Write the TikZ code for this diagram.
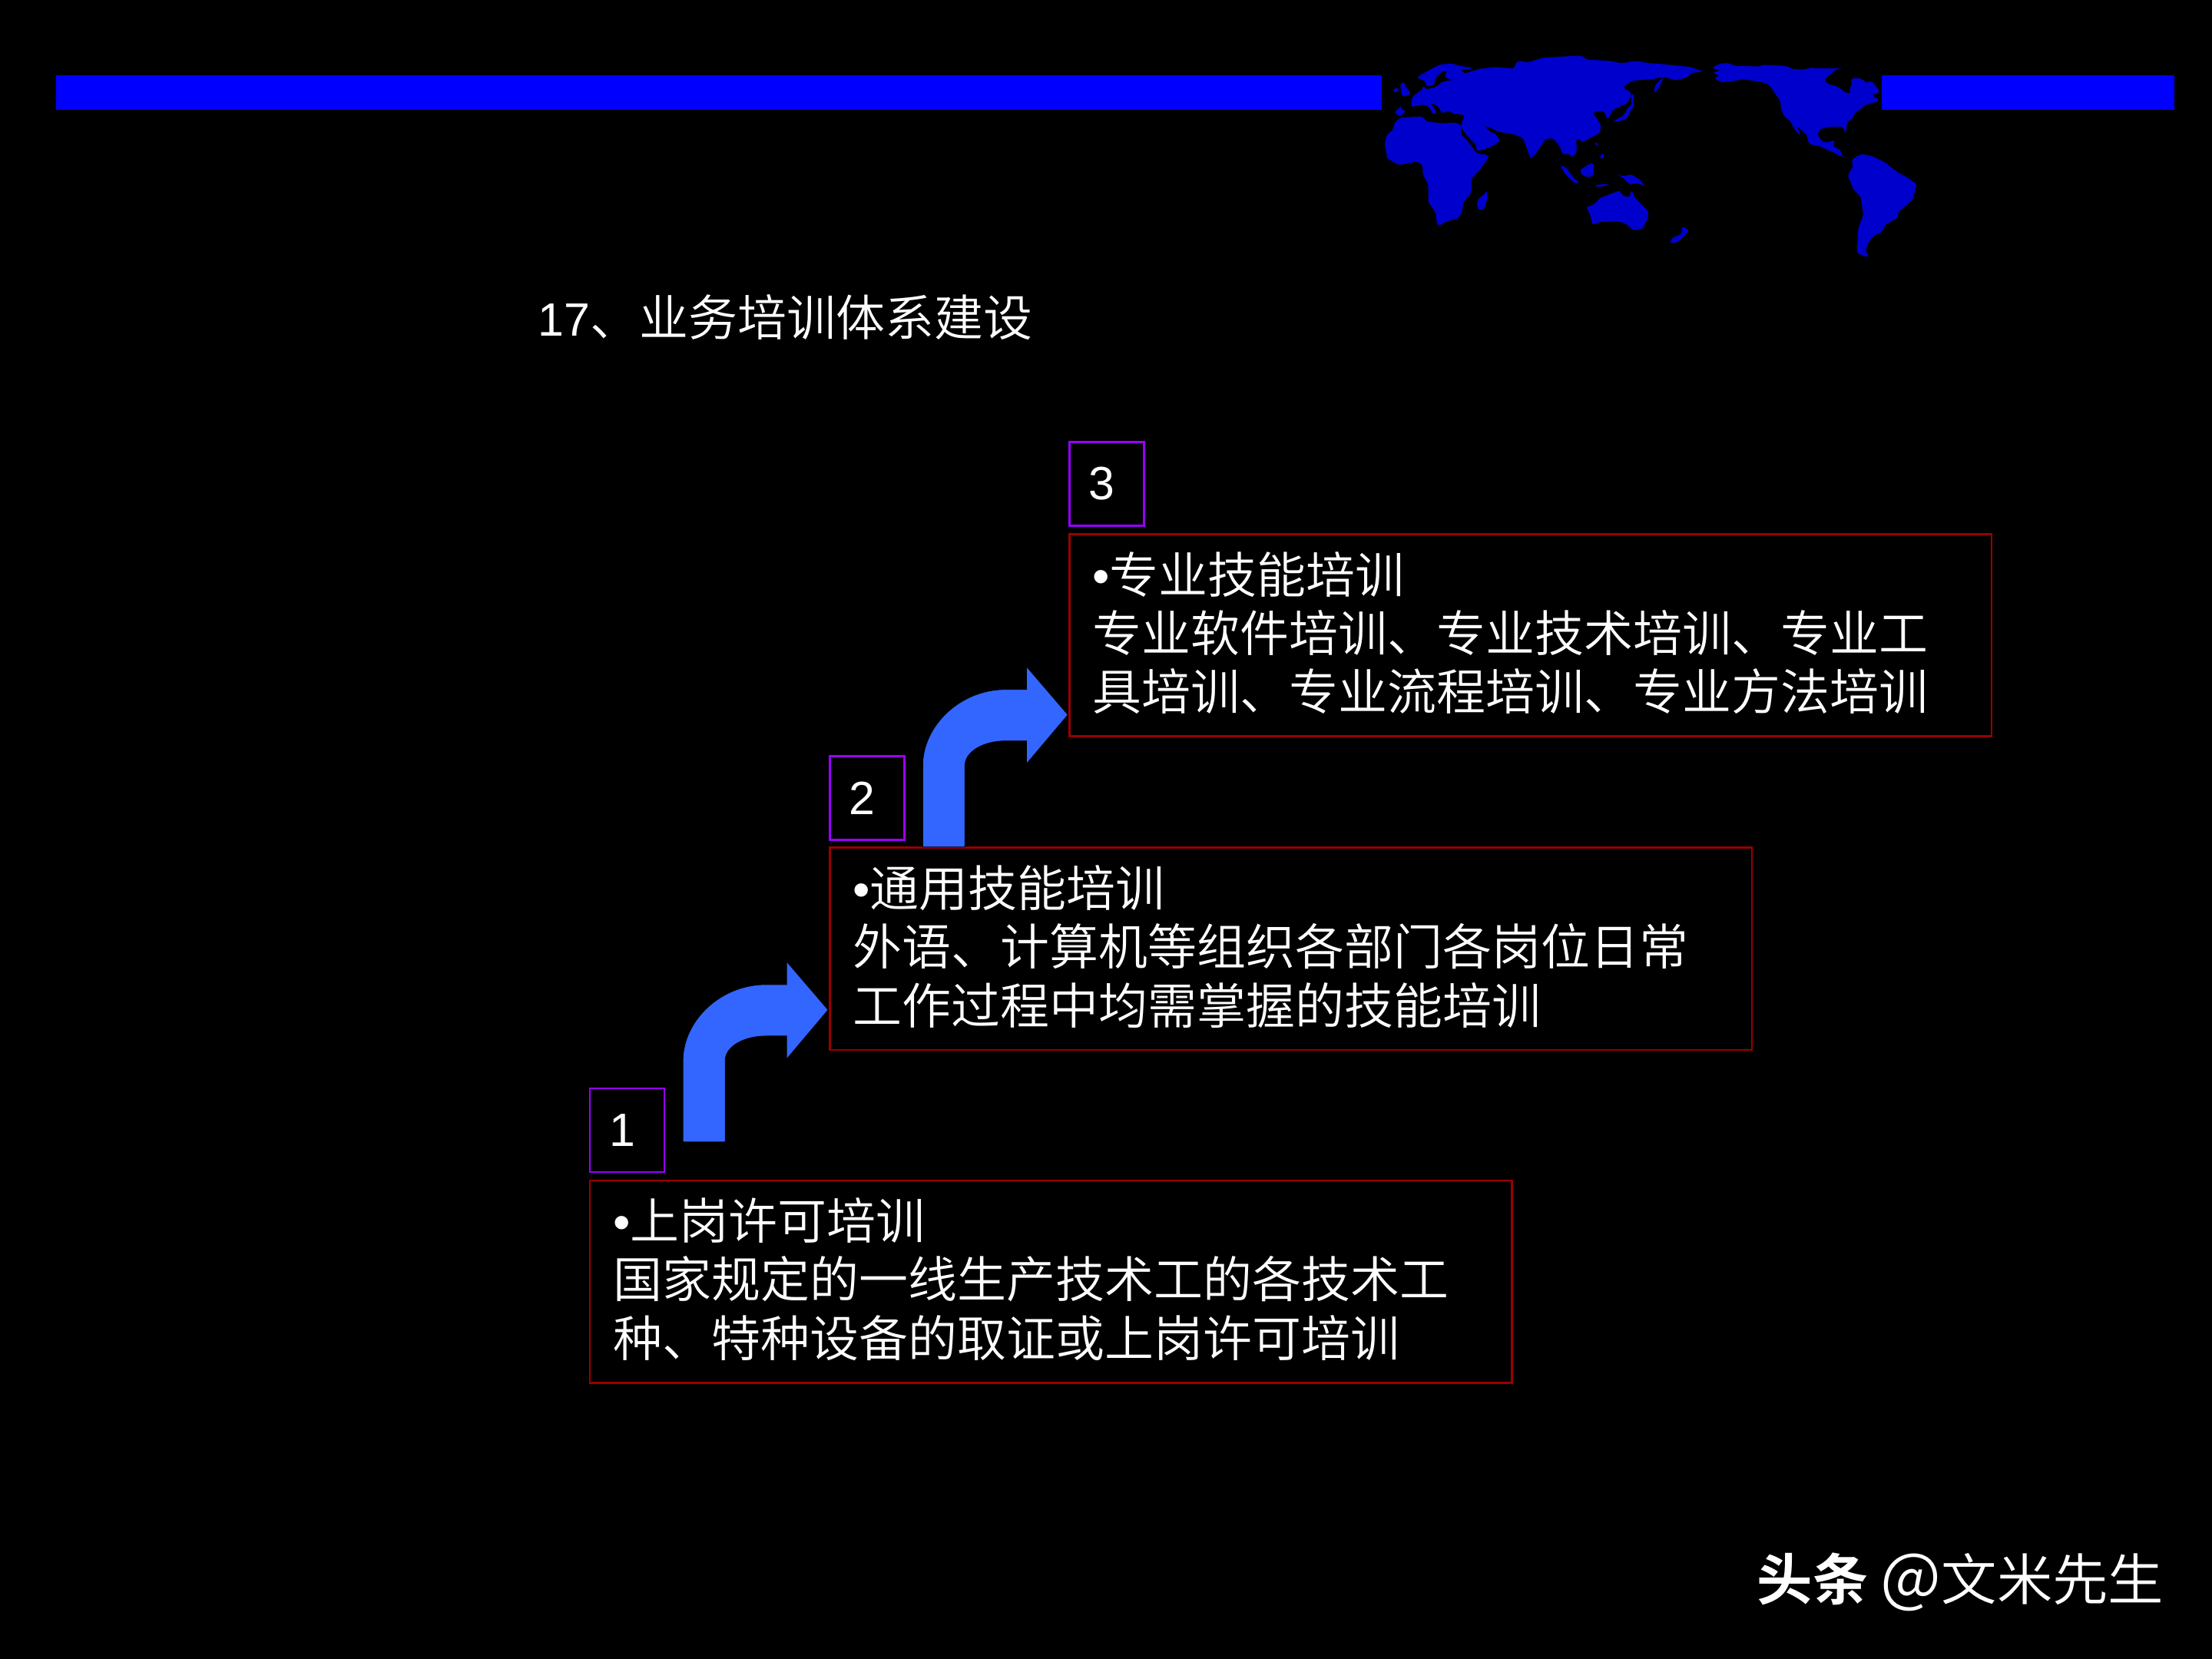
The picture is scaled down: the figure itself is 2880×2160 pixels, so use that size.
\documentclass[tikz,border=0pt]{standalone}
\usepackage{fontspec}
\setmainfont{Noto Sans CJK SC DemiLight}[BoldFont={Noto Sans CJK SC Bold}]
\newfontfamily\latinfont{Liberation Sans}
\newfontfamily\digitfont{Liberation Sans}[Scale=0.95]
\usetikzlibrary{positioning}
\definecolor{barblue}{HTML}{0000FF}
\definecolor{mapblue}{HTML}{0000CC}
\definecolor{arrowblue}{HTML}{3366FF}
\definecolor{boxred}{HTML}{990000}
\definecolor{numpurple}{HTML}{9900FF}
\newcommand{\bulletmark}{{\latinfont •}}
\tikzset{
  textbox/.style={draw=boxred, line width=0.027cm, text=white, outer sep=0pt, inner xsep=0.3cm, inner ysep=0pt,
    text width=11.4cm, minimum height=2.63cm, align=left, font=\fontsize{18.2}{21.75}\selectfont,
    execute at end node={\par\vspace{0.06cm}}},
  numbox/.style={draw=numpurple, line width=0.027cm, text=white, outer sep=0pt, inner sep=0pt,
    minimum width=0.97cm, minimum height=1.09cm, font=\fontsize{18.2}{21.75}\selectfont\digitfont,
    execute at end node={\hspace{0.12cm}}},
  plaintext/.style={text=white, inner sep=0pt, font=\fontsize{18.2}{21.75}\selectfont},
  bentarrow/.pic={
    \path[fill=arrowblue, draw=black, line width=0.008cm]
      (0,0) -- (-54,-63) -- (-54,-33) -- (-81,-33) .. controls (-141,-33) and (-189,15) .. (-189,66)
      -- (-189,172) -- (-134,172) -- (-134,66) .. controls (-134,48) and (-110,34) .. (-81,34)
      -- (-54,34) -- (-54,64) -- cycle;
  }
}
\begin{document}
\begin{tikzpicture}[x=0.01cm, y=-0.01cm]
          \fill[black] (0,0) rectangle (2880,2160);
          \fill[barblue] (73,98) rectangle (1799,143);
          \fill[barblue] (2450,98) rectangle (2831,143);
          % map, north part
          \begin{scope}[shift={(1790,60)}, x=0.003333cm, y=-0.003333cm, rounded corners=0.03cm]
            \fill[mapblue] (143,235) -- (143,205) -- (165,183) -- (185,172) -- (190,153) -- (200,170) -- (240,160) -- (262,140) -- (315,130) -- (285,128) -- (272,118) -- (285,98) -- (265,98) -- (240,120) -- (232,150) -- (205,160) -- (195,135) -- (167,127) -- (170,118) -- (220,90) -- (255,72) -- (300,68) -- (335,78) -- (382,85) -- (370,93) -- (335,92) -- (350,108) -- (405,90) -- (470,82) -- (545,88) -- (555,60) -- (575,58) -- (595,65) -- (660,45) -- (810,37) -- (825,52) -- (920,58) -- (965,67) -- (1020,58) -- (1080,68) -- (1100,68) -- (1235,82) -- (1285,100) -- (1235,105) -- (1230,118) -- (1180,135) -- (1130,120) -- (1080,130) -- (1010,135) -- (975,155) -- (972,165) -- (1000,178) -- (1005,195) -- (985,225) -- (950,240) -- (925,255) -- (918,280) -- (908,285) -- (900,258) -- (875,252) -- (852,262) -- (870,285) -- (885,310) -- (880,340) -- (850,355) -- (808,378) -- (803,362) -- (788,362) -- (790,415) -- (775,435) -- (755,420) -- (735,425) -- (725,395) -- (700,362) -- (668,362) -- (630,420) -- (610,442) -- (595,400) -- (580,360) -- (545,345) -- (485,335) -- (430,310) -- (445,332) -- (475,345) -- (490,370) -- (465,390) -- (400,412) -- (395,385) -- (360,350) -- (340,320) -- (338,305) -- (352,270) -- (300,262) -- (285,250) -- (265,265) -- (245,232) -- (215,222) -- (235,245) -- (240,265) -- (225,265) -- (215,240) -- (190,228) -- (145,238) -- cycle;
            \fill[mapblue] (1132,120) -- (1110,165) -- (1098,183) -- (1092,175) -- (1098,150) -- cycle;
            \fill[mapblue] (928,298) -- (975,270) -- (990,240) -- (1005,230) -- (1002,200) -- (1010,183) -- (1015,200) -- (1010,225) -- (1015,235) -- (995,260) -- (990,280) -- (965,292) -- cycle;
            \fill[mapblue] (115,138) -- (120,160) -- (142,185) -- (125,195) -- (105,195) -- (102,165) -- (98,150) -- cycle;
            \fill[mapblue] (70,170) -- (90,162) -- (97,175) -- (75,182) -- cycle;
            \fill[mapblue] (78,255) -- (95,245) -- (103,230) -- (103,250) -- (123,252) -- (105,272) -- (85,270) -- cycle;
          \end{scope}
          \begin{scope}[shift={(2150,60)}, x=0.003333cm, y=-0.003333cm, rounded corners=0.03cm]
            \fill[mapblue] (245,80) -- (275,67) -- (305,67) -- (325,77) -- (420,80) -- (440,73) -- (530,78) -- (550,90) -- (600,92) -- (620,85) -- (700,88) -- (750,85) -- (725,90) -- (677,130) -- (685,145) -- (730,160) -- (765,185) -- (780,185) -- (775,165) -- (785,155) -- (780,130) -- (800,123) -- (825,130) -- (845,145) -- (860,135) -- (890,170) -- (890,185) -- (862,190) -- (892,213) -- (860,225) -- (835,230) -- (815,250) -- (795,262) -- (790,280) -- (765,300) -- (760,345) -- (750,315) -- (700,315) -- (660,325) -- (650,345) -- (665,370) -- (685,378) -- (718,368) -- (712,395) -- (740,405) -- (745,430) -- (775,440) -- (740,430) -- (710,415) -- (660,392) -- (615,382) -- (610,350) -- (570,312) -- (585,352) -- (560,325) -- (545,295) -- (520,275) -- (507,245) -- (505,215) -- (460,150) -- (430,140) -- (360,130) -- (330,135) -- (275,142) -- (245,125) -- (268,118) -- (240,103) -- (272,95) -- (240,88) -- cycle;
          \end{scope}
          % map, south part
          \begin{scope}[shift={(1760,50)}, x=0.004847cm, y=-0.003333cm, rounded corners=0.03cm]
            \fill[mapblue] (295,340) -- (292,375) -- (310,400) -- (335,450) -- (367,457) -- (365,470) -- (345,510) -- (320,550) -- (322,600) -- (300,640) -- (295,680) -- (285,705) -- (255,715) -- (235,733) -- (228,725) -- (225,680) -- (205,640) -- (205,570) -- (190,530) -- (190,495) -- (175,482) -- (125,495) -- (95,470) -- (88,410) -- (95,375) -- (110,360) -- (115,330) -- (130,310) -- (190,305) -- (200,325) -- (240,332) -- (280,330) -- cycle;
            \fill[mapblue] (558,495) -- (575,505) -- (597,550) -- (612,565) -- (600,568) -- (585,550) -- (570,525) -- cycle;
            \fill[mapblue] (612,515) -- (640,488) -- (650,490) -- (648,535) -- (632,545) -- (615,530) -- cycle;
            \fill[mapblue] (655,403) -- (663,420) -- (650,415) -- cycle;
            \fill[mapblue] (668,452) -- (677,450) -- (675,472) -- (665,470) -- cycle;
            \fill[mapblue] (650,575) -- (685,568) -- (688,574) -- (660,582) -- cycle;
            \fill[mapblue] (705,528) -- (725,540) -- (750,532) -- (775,555) -- (785,578) -- (765,565) -- (745,572) -- (728,545) -- cycle;
            \fill[mapblue] (362,595) -- (365,620) -- (355,668) -- (340,672) -- (335,650) -- (340,625) -- (355,612) -- cycle;
            \fill[mapblue] (628,660) -- (650,650) -- (665,625) -- (700,605) -- (720,595) -- (725,615) -- (745,622) -- (750,592) -- (760,625) -- (795,675) -- (795,700) -- (780,745) -- (755,750) -- (735,725) -- (715,715) -- (665,718) -- (645,730) -- (640,690) -- cycle;
            \fill[mapblue] (885,735) -- (905,750) -- (880,790) -- (868,800) -- (852,800) -- (860,780) -- (885,765) -- cycle;
            \fill[mapblue] (1340,475) -- (1365,452) -- (1395,460) -- (1430,485) -- (1460,520) -- (1490,545) -- (1515,570) -- (1505,630) -- (1465,680) -- (1465,700) -- (1430,730) -- (1420,760) -- (1400,770) -- (1385,800) -- (1378,825) -- (1385,857) -- (1355,840) -- (1358,745) -- (1372,690) -- (1365,620) -- (1345,590) -- (1330,535) -- (1345,500) -- cycle;
          \end{scope}
          \node[plaintext, anchor=west] (title) at (700,413) {{\digitfont 17}、业务培训体系建设};
          % boxes
          \node[textbox, anchor=north west] (box1) at (768,1537) {\bulletmark 上岗许可培训\\国家规定的一线生产技术工的各技术工\\种、特种设备的取证或上岗许可培训};
          \node[textbox, anchor=south west] (box2) [above right=1.7cm and 3.12cm of box1.north west] {\bulletmark 通用技能培训\\外语、计算机等组织各部门各岗位日常\\工作过程中均需掌握的技能培训};
          \node[textbox, anchor=south west] (box3) [above right=1.45cm and 3.12cm of box2.north west] {\bulletmark 专业技能培训\\专业软件培训、专业技术培训、专业工\\具培训、专业流程培训、专业方法培训};
          \node[numbox] (num1) [above=0.11cm of box1.north west, anchor=south west] {1};
          \node[numbox] (num2) [above=0.1cm of box2.north west, anchor=south west] {2};
          \node[numbox] (num3) [above=0.11cm of box3.north west, anchor=south west] {3};
          % arrows
          \coordinate[above left=0.52cm and 0.02cm of box2.south west] (tip1);
          \coordinate[above left=0.28cm and 0.02cm of box3.south west] (tip2);
          \pic at (tip1) {bentarrow};
          \pic at (tip2) {bentarrow};
          \node[plaintext, anchor=west, font=\fontsize{20.6}{24}\selectfont] (mark) at (2287,2060) {\textbf{头条} {\fontsize{24}{24}\selectfont @}文米先生};
\end{tikzpicture}
\end{document}
